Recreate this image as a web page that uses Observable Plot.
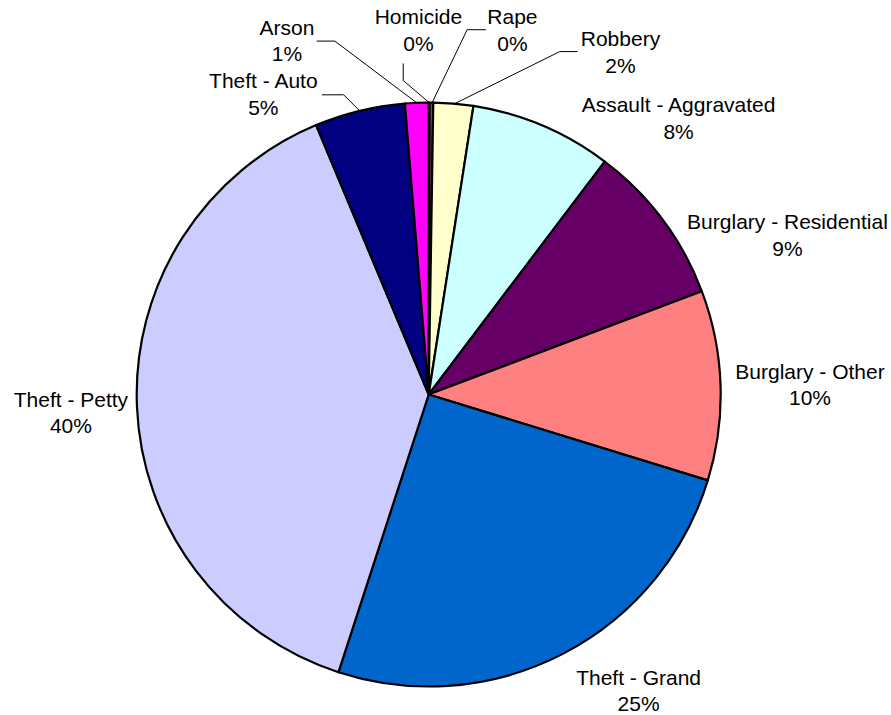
<!DOCTYPE html>
<html>
<head>
<meta charset="utf-8">
<script src="https://cdn.jsdelivr.net/npm/d3@7"></script>
<script src="https://cdn.jsdelivr.net/npm/@observablehq/plot@0.6"></script>
<style>
  html, body { margin: 0; padding: 0; background: #fff; }
  #chart svg { display: block; }
</style>
</head>
<body>
<div id="chart"></div>
<script>
// ---- Data (clockwise from 12 o'clock) ----
const categories = ["Homicide", "Rape", "Robbery", "Assault - Aggravated", "Burglary - Residential",
  "Burglary - Other", "Theft - Grand", "Theft - Petty", "Theft - Auto", "Arson"];
const shares = [0.05, 0.2, 2.2, 7.85, 8.95, 10.5, 25.25, 38.7, 5.0, 1.3];
const percentLabels = ["0%", "0%", "2%", "8%", "9%", "10%", "25%", "40%", "5%", "1%"];
const colors = ["#9999FF", "#993366", "#FFFFCC", "#CCFFFF", "#660066",
  "#FF8080", "#0066CC", "#CCCCFF", "#000080", "#FF00FF"];

// ---- Layout (pie-radius units, y up, centre = 0,0) ----
const labelPos = [
  [-0.037, 1.253], [0.285, 1.253], [0.655, 1.178], [0.854, 0.952], [1.227, 0.551],
  [1.304, 0.038], [0.717, -1.010], [-1.227, -0.058], [-0.568, 1.034], [-0.487, 1.216]
];
// leader-line elbows (start, bend) for the crowded small slices; end is on the rim at the slice mid-angle
const leaderElbows = {
  "Homicide": [[-0.089, 1.134], [-0.089, 1.077]],
  "Rape": [[0.193, 1.251], [0.130, 1.251]],
  "Robbery": [[0.507, 1.176], [0.447, 1.176]],
  "Theft - Auto": [[-0.366, 1.028], [-0.293, 1.028]],
  "Arson": [[-0.384, 1.212], [-0.323, 1.212]]
};

const W = 891, H = 715;
const cxPx = 428.7, cyPx = 394.5, rPx = 292;

const rows = categories.map((name, i) => ({name, value: shares[i], pct: percentLabels[i], color: colors[i]}));
const pie = d3.pie().sort(null).value(d => d.value).startAngle(0).endAngle(2 * Math.PI);
const arcs = pie(rows);
const colorOf = d3.scaleOrdinal(categories, colors);

const labels = rows.map((d, i) => ({x: labelPos[i][0], y: labelPos[i][1], text: d.name + "\n" + d.pct}));

const leaders = [];
arcs.forEach(a => {
  const el = leaderElbows[a.data.name];
  if (!el) return;
  const mid = (a.startAngle + a.endAngle) / 2;
  el.forEach(p => leaders.push({name: a.data.name, x: p[0], y: p[1]}));
  leaders.push({name: a.data.name, x: Math.sin(mid), y: Math.cos(mid)});
});

const pieMark = (index, scales) => {
  const cx = scales.x(0), cy = scales.y(0), r = scales.x(1) - scales.x(0);
  const arc = d3.arc().innerRadius(0).outerRadius(r);
  const g = d3.create("svg:g").attr("transform", `translate(${cx},${cy})`);
  g.selectAll("path").data(arcs).join("path")
    .attr("d", arc)
    .attr("fill", d => colorOf(d.data.name))
    .attr("stroke", "#000")
    .attr("stroke-width", 2.2)
    .attr("stroke-linejoin", "round");
  return g.node();
};

const chart = Plot.plot({
  width: W,
  height: H,
  margin: 0,
  style: {background: "#fff", overflow: "visible"},
  x: {domain: [-cxPx / rPx, (W - cxPx) / rPx], axis: null},
  y: {domain: [-(H - cyPx) / rPx, cyPx / rPx], axis: null},
  marks: [
    pieMark,
    Plot.line(leaders, {x: "x", y: "y", z: "name", stroke: "#000", strokeWidth: 1}),
    Plot.text(labels, {
      x: "x", y: "y", text: "text",
      fontSize: 21, fontFamily: "'Liberation Sans', Arial, sans-serif",
      lineHeight: 1.25, fill: "#000", textAnchor: "middle"
    })
  ]
});
document.getElementById("chart").appendChild(chart);
</script>
</body>
</html>
